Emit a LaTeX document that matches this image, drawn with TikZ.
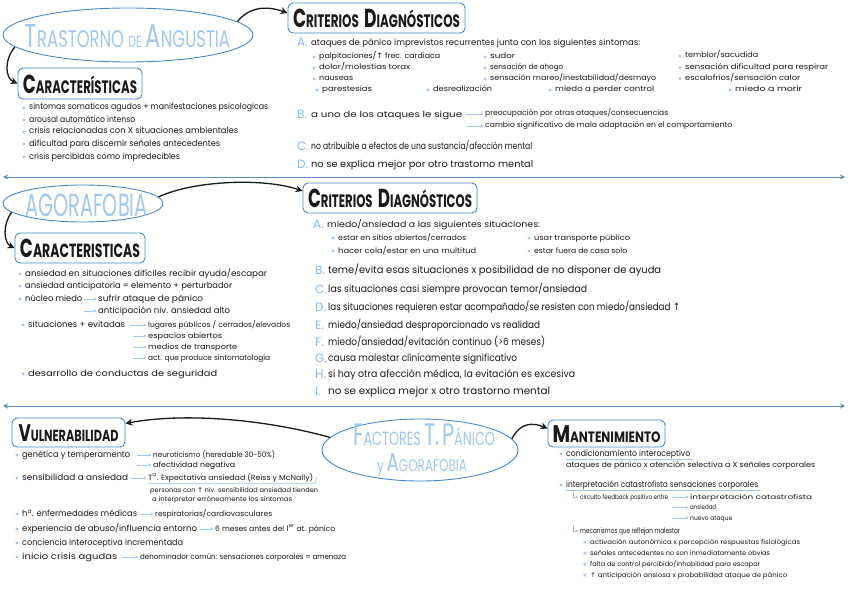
\documentclass[tikz,border=0pt]{standalone}
\usepackage{graphicx}
\usepackage{fontspec}
\setmainfont{Poppins}
\newfontfamily\symf{DejaVu Sans}
\usetikzlibrary{shapes.geometric,arrows.meta,calc}
\definecolor{lb}{HTML}{A3C8F0}
\definecolor{lbl}{HTML}{8DB8EA}
\definecolor{eb}{HTML}{4F87C6}
\definecolor{sepc}{HTML}{5B8ECB}
\definecolor{ink}{HTML}{1A1A1A}
\newcommand\fsz[1]{\fontsize{#1}{#1}\selectfont}
\newcommand\W[2]{\resizebox{#1pt}{\height}{#2}}
\newcommand\up{{\symf ↑}}
\newcommand\bdot[1]{\fill[lb] ([xshift=-5pt]#1.west) circle (1.7pt);}
\newcommand\bstar[1]{\node[text=lb, font=\symf\fsz{6}, inner sep=0pt] (#1-s) at ([xshift=-5pt]#1.west) {★};}
\newcommand\sa[2]{\coordinate (sa-#2) at (#1,0); \draw[sarr] (sa-#2 |- #2.west) -- ([xshift=-1.5pt]#2.west);}
\newcommand\hk[3]{\coordinate (hk-#3) at (#1,#2); \draw[sarr] (hk-#3) |- ([xshift=-1.5pt]#3.west);}
\tikzset{
 tx/.style={anchor=west, inner sep=0pt, text height=6pt, text depth=2pt, font=\fsz{8.5}, text=ink},
 sm/.style={tx, font=\fsz{7.5}},
 xs/.style={tx, font=\fsz{6.5}},
 lg/.style={tx, font=\fsz{10}},
 letter/.style={anchor=west, inner sep=0pt, text height=7pt, text depth=1pt, font=\fsz{12}, text=lbl},
 hbox/.style={draw=eb, line width=0.9pt, rounded corners=5pt, inner sep=0pt, text height=19pt, text depth=0pt, font=\bfseries, text=ink},
 oval/.style={ellipse, draw=eb, line width=0.9pt, inner sep=0pt},
 ttl/.style={anchor=base, inner sep=0pt, text=lb},
 barr/.style={draw=ink, line width=1.3pt, -{Stealth[length=7pt,width=7pt]}},
 sarr/.style={draw=lb, line width=0.7pt, -{Stealth[length=3pt,width=3pt]}},
 sepl/.style={draw=sepc, line width=0.9pt, {Stealth[length=5pt,width=5pt]}-{Stealth[length=5pt,width=5pt]}},
 ul/.style={draw=lb, line width=0.7pt},
}
\begin{document}
\begin{tikzpicture}[x=1pt,y=-1pt]
\fill[white] (0,0) rectangle (848,599);
\useasboundingbox (0,0) rectangle (848,599);

% ================= TOP =================
\node[oval, minimum width=250pt, minimum height=54pt] (t1) at (128,35) {};
\node[ttl] (t1t) at (127.5,48) {\W{205}{\fsz{33}T\fsz{24}RASTORNO\hspace{6pt}\fsz{16}DE\hspace{6pt}\fsz{33}A\fsz{24}NGUSTIA}};
\node[hbox, minimum width=124pt, minimum height=31pt] (c1) at (80,83.5) {\W{114}{\fsz{26}C\fsz{18}ARACTERÍSTICAS}};
\node[hbox, minimum width=177pt, minimum height=30pt] (d1) at (376.5,18) {\W{167}{\fsz{26}C\fsz{18}RITERIOS\hspace{8pt}\fsz{26}D\fsz{18}IAGNÓSTICOS}};
\draw[barr] (t1.7) .. controls (250,6) and (268,6) .. ([yshift=5pt]d1.west);
\draw[barr] (t1.186) .. controls (4,60) and (5,78) .. (c1.west);

\node[tx] (p1) at (29,108) {\W{239}{sintomas somaticos agudos + manifestaciones psicologicas}}; \bdot{p1}
\node[tx] (p2) at (29,120) {\W{106}{arousal automático intenso}}; \bdot{p2}
\node[tx] (p3) at (29,132) {\W{209}{crisis relacionadas con X situaciones ambientales}}; \bdot{p3}
\node[tx] (p4) at (29,144) {\W{191}{dificultad para discernir señales antecedentes}}; \bdot{p4}
\node[tx] (p5) at (29,157) {\W{151}{crisis percibidas como impredecibles}}; \bdot{p5}

\node[letter] (LA1) at (297,44) {A.};
\node[tx] (q0) at (311,44) {\W{329}{ataques de pánico imprevistos recurrentes junto con los siguientes sintomas:}};
\node[sm] (q1) at (319,57) {\W{121}{palpitaciones/\up\ frec. cardiaca}}; \bdot{q1}
\node[sm] (q2) at (319,68) {\W{91}{dolor/molestias torax}}; \bdot{q2}
\node[sm] (q3) at (319,79) {\W{34}{nauseas}}; \bdot{q3}
\node[sm] (q4) at (322,90) {\W{50}{parestesias}}; \bdot{q4}
\node[sm] (q5) at (433,90) {\W{59}{desrealización}}; \bdot{q5}
\node[sm] (q6) at (490,57) {\W{25}{sudor}}; \bdot{q6}
\node[sm] (q7) at (490,68) {\W{73}{sensación de ahogo}}; \bdot{q7}
\node[sm] (q8) at (490,79) {\W{166}{sensación mareo/inestabilidad/desmayo}}; \bdot{q8}
\node[sm] (q9) at (555,90) {\W{99}{miedo a perder control}}; \bdot{q9}
\node[sm] (q10) at (685,56) {\W{73}{temblor/sacudida}}; \bdot{q10}
\node[sm] (q11) at (685,67.5) {\W{143}{sensación dificultad para respirar}}; \bdot{q11}
\node[sm] (q12) at (685,78.5) {\W{115}{escalofríos/sensación calor}}; \bdot{q12}
\node[sm] (q13) at (735,90) {\W{67}{miedo a morir}}; \bdot{q13}

\node[letter] (LB1) at (297,116) {B.};
\node[tx] (r0) at (311,116) {\W{151}{a uno de los ataques le sigue}};
\node[sm] (r1) at (485,114) {\W{183}{preocupación por otras ataques/consecuencias}};
\node[sm] (r2) at (485,126) {\W{247}{cambio significativo de mala adaptación en el comportamiento}};
\sa{466}{r1} \sa{466}{r2}
\node[letter] (LC1) at (297,147) {C.};
\node[tx, font=\fsz{9.5}] (r3) at (311,147) {\W{221}{no atribuible a efectos de una sustancia/afección mental}};
\node[letter] (LD1) at (297,165) {D.};
\node[tx, font=\fsz{9.5}] (r4) at (311,165) {\W{222}{no se explica mejor por otro trastorno mental}};

\coordinate (s1a) at (3,177); \coordinate (s1b) at (845,177);
\draw[sepl] (s1a) -- (s1b);

% ================= MIDDLE =================
\node[oval, minimum width=160pt, minimum height=37pt] (t2) at (83,203.5) {};
\node[ttl] (t2t) at (86.5,216) {\W{122}{\fsz{32}AGORAFOBIA}};
\node[hbox, minimum width=130pt, minimum height=30pt] (c2) at (80,248) {\W{120}{\fsz{26}C\fsz{19}ARACTERISTICAS}};
\node[hbox, minimum width=174pt, minimum height=30pt] (d2) at (390,198) {\W{164}{\fsz{26}C\fsz{18}RITERIOS\hspace{8pt}\fsz{26}D\fsz{18}IAGNÓSTICOS}};
\draw[barr] (t2.5) .. controls (195,180) and (265,178) .. ([yshift=7pt]d2.west);
\draw[barr] (t2.187) .. controls (2,225) and (4,243) .. (c2.west);

\node[tx] (m1) at (25,274) {\W{242}{ansiedad en situaciones difíciles recibir ayuda/escapar}}; \bdot{m1}
\node[tx] (m2) at (25,286) {\W{207}{ansiedad anticipatoria = elemento + perturbador}}; \bdot{m2}
\node[tx] (m3) at (25,299) {\W{57}{núcleo miedo}}; \bdot{m3}
\node[tx] (m3a) at (98,299) {\W{105}{sufrir ataque de pánico}};
\node[tx] (m3b) at (98,311) {\W{132}{anticipación niv. ansiedad alto}};
\sa{84}{m3a} \sa{84}{m3b}
\node[tx] (m4) at (28,325) {\W{97}{situaciones + evitadas}}; \bdot{m4}
\node[sm] (m4a) at (148,325) {\W{142}{lugares públicos / cerrados/elevados}};
\node[sm] (m4b) at (148,336) {\W{74}{espacios abiertos}};
\node[sm] (m4c) at (148,347) {\W{89}{medios de transporte}};
\node[sm] (m4d) at (148,358) {\W{122}{act. que produce sintomatología}};
\sa{130}{m4a} \sa{133}{m4b} \sa{133}{m4c} \sa{133}{m4d}
\node[tx] (m5) at (28,374) {\W{189}{desarrollo de conductas de seguridad}}; \bdot{m5}

\node[letter] (LA2) at (313,225) {A.};
\node[tx] (n0) at (327,225) {\W{213}{miedo/ansiedad a las siguientes situaciones:}};
\node[sm] (n1) at (338,238) {\W{128}{estar en sitios abiertos/cerrados}}; \bdot{n1}
\node[sm] (n2) at (338,251) {\W{138}{hacer cola/estar en una multitud}}; \bdot{n2}
\node[sm] (n3) at (534,238) {\W{96}{usar transporte público}}; \bdot{n3}
\node[sm] (n4) at (534,251) {\W{93}{estar fuera de casa solo}}; \bdot{n4}

\node[letter] (LB2) at (315,271) {B.};
\node[lg] (nB) at (328,271) {\W{333}{teme/evita esas situaciones x posibilidad de no disponer de ayuda}};
\node[letter] (LC2) at (315,290) {C.};
\node[lg] (nC) at (328,290) {\W{259}{las situaciones casi siempre provocan temor/ansiedad}};
\node[letter] (LD2) at (315,308) {D.};
\node[lg] (nD) at (328,308) {\W{352}{las situaciones requieren estar acompañado/se resisten con miedo/ansiedad \up}};
\node[letter] (LE2) at (315,326) {E.};
\node[lg] (nE) at (328,326) {\W{212}{miedo/ansiedad desproporcionado vs realidad}};
\node[letter] (LF2) at (315,343) {F.};
\node[lg] (nF) at (328,343) {\W{217}{miedo/ansiedad/evitación continuo (>6 meses)}};
\node[letter] (LG2) at (315,359) {G.};
\node[lg] (nG) at (328,359) {\W{189}{causa malestar clínicamente significativo}};
\node[letter] (LH2) at (315,375) {H.};
\node[lg] (nH) at (328,375) {\W{247}{si hay otra afección médica, la evitación es excesiva}};
\node[letter] (LI2) at (315,392) {I.};
\node[lg] (nI) at (328,392) {\W{222}{no se explica mejor x otro trastorno mental}};

\coordinate (s2a) at (3,406); \coordinate (s2b) at (845,406);
\draw[sepl] (s2a) -- (s2b);

% ================= BOTTOM =================
\node[oval, minimum width=196pt, minimum height=62pt] (t3) at (420,450) {};
\node[ttl] (t3t1) at (424,445) {\W{142}{\fsz{31}F\fsz{19}ACTORES\hspace{5pt}\fsz{31}T.\hspace{3pt}P\fsz{19}ÁNICO}};
\node[ttl] (t3t2) at (422,471) {\W{90}{\fsz{17}y\hspace{4pt}\fsz{26}A\fsz{17}GORAFOBIA}};
\node[hbox, minimum width=113pt, minimum height=29pt, text height=17pt] (v) at (68.5,432.5) {\W{100}{\fsz{24}V\fsz{16}ULNERABILIDAD}};
\node[hbox, minimum width=117pt, minimum height=27pt, text height=17pt] (m) at (606.5,433.5) {\W{108}{\fsz{24}M\fsz{15}ANTENIMIENTO}};
\draw[barr] (t3.172) .. controls (260,418) and (180,413) .. ([yshift=9pt]v.east);
\draw[barr] (t3.7) .. controls (520,423) and (532,422) .. ([yshift=5pt]m.west);

\node[tx] (g1) at (22,455) {\W{108}{genética y temperamento}}; \bdot{g1}
\node[sm] (g1a) at (153,455) {\W{122}{neuroticismo (heredable 30-50\%)}};
\node[sm] (g1b) at (153,465) {\W{82}{afectividad negativa}};
\sa{137}{g1a} \sa{137}{g1b}
\node[tx] (g2) at (22,478) {\W{106}{sensibilidad a ansiedad}}; \bdot{g2}
\node[sm] (g2a) at (148,478) {\W{165}{T\textsuperscript{a}. Expectativa ansiedad (Reiss y McNally)}};
\sa{131}{g2a}
\draw[ul] ([yshift=-1pt]g2a.south west) -- ([yshift=-1pt,xshift=2pt]g2a.south east) -- ([xshift=3pt,yshift=5pt]g2a.south east);
\node[xs] (g2b) at (150,490) {\W{168}{personas con \up\ niv. sensibilidad ansiedad tienden}};
\node[xs] (g2c) at (152,499) {\W{140}{a interpretar erróneamente los síntomas}};
\node[tx] (g3) at (22,514) {\W{115}{h\textsuperscript{a}. enfermedades médicas}}; \bdot{g3}
\node[sm] (g3a) at (155,514) {\W{117}{respiratorias/cardiovasculares}};
\sa{140}{g3a}
\node[tx] (g4) at (22,529) {\W{175}{experiencia de abuso/influencia entorno}}; \bdot{g4}
\node[sm] (g4a) at (215,529) {\W{120}{6 meses antes del 1\textsuperscript{er} at. pánico}};
\sa{200}{g4a}
\node[tx] (g5) at (22,543) {\W{161}{conciencia interoceptiva incrementada}}; \bdot{g5}
\node[tx] (g6) at (22,557) {\W{95}{inicio crisis agudas}}; \bdot{g6}
\node[sm] (g6a) at (140,557) {\W{206}{denominador común: sensaciones corporales = amenaza}};
\sa{122}{g6a}

\node[tx] (k1) at (566,454) {\W{124}{condicionamiento interoceptivo}}; \bdot{k1}
\draw[ul] ([yshift=-1pt]k1.south west) -- ([yshift=-1pt,xshift=3pt]k1.south east);
\node[sm] (k2) at (566,465) {\W{249}{ataques de pánico x atención selectiva a X señales corporales}};
\node[tx] (k3) at (566,485) {\W{192}{interpretación catastrofista sensaciones corporales}}; \bdot{k3}
\draw[ul] ([yshift=-1pt]k3.south west) -- ([yshift=-1pt,xshift=2pt]k3.south east);
\node[xs] (k4) at (580,497) {\W{88}{circuito feedback positivo entre}};
\hk{573}{491}{k4}
\node[xs] (k4a) at (690,497) {\W{122}{interpretación catastrofista}};
\node[xs] (k4b) at (690,507.5) {\W{26}{ansiedad}};
\node[xs] (k4c) at (690,518) {\W{42}{nuevo ataque}};
\sa{672}{k4a} \sa{672}{k4b} \sa{672}{k4c}
\node[sm] (k5) at (580,531) {\W{100}{mecanismos que reflejan malestar}};
\hk{573}{525}{k5}
\node[xs] (k6) at (590,542) {\W{210}{activación autonómica x percepción respuestas fisiológicas}}; \bstar{k6}
\node[xs] (k7) at (590,553) {\W{180}{señales antecedentes no son inmediatamente obvias}}; \bstar{k7}
\node[xs] (k8) at (590,564) {\W{170}{falta de control percibido/inhabilidad para escapar}}; \bstar{k8}
\node[xs] (k9) at (590,575) {\W{197}{\up\ anticipación ansiosa x probabilidad ataque de pánico}}; \bstar{k9}
\end{tikzpicture}
\end{document}
